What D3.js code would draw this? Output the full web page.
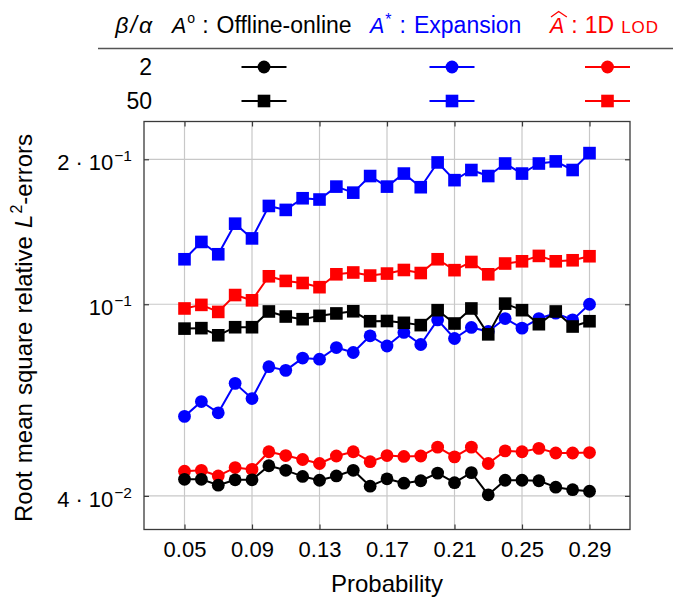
<!DOCTYPE html>
<html>
<head>
<meta charset="utf-8">
<script src="https://cdn.jsdelivr.net/npm/d3@7/dist/d3.min.js"></script>
<style>
  body { margin: 0; background: #fff; }
  svg { display: block; }
  text { font-family: "Liberation Sans", Arial, sans-serif; fill: #000; }
</style>
</head>
<body>
<svg id="chart" width="673" height="598"></svg>
<script>
// Sampling probabilities (x axis)
const probability = [0.05, 0.06, 0.07, 0.08, 0.09, 0.10, 0.11, 0.12, 0.13, 0.14, 0.15, 0.16,
                     0.17, 0.18, 0.19, 0.20, 0.21, 0.22, 0.23, 0.24, 0.25, 0.26, 0.27, 0.28, 0.29];

// RMS relative L2-errors, offline-online method
const offline2  = [0.0433, 0.0433, 0.0421, 0.0432, 0.0432, 0.0462, 0.0452, 0.0439, 0.0431, 0.0440, 0.0452, 0.0419,
                   0.0434, 0.0425, 0.0430, 0.0446, 0.0426, 0.0447, 0.0402, 0.0431, 0.0431, 0.0430, 0.0417, 0.0412, 0.0409];
const offline50 = [0.0890, 0.0892, 0.0862, 0.0896, 0.0896, 0.0966, 0.0943, 0.0931, 0.0946, 0.0957, 0.0967, 0.0922,
                   0.0923, 0.0915, 0.0905, 0.0972, 0.0912, 0.0980, 0.0866, 0.1003, 0.0972, 0.0909, 0.0966, 0.0899, 0.0922];

// Expansion method
const expansion2  = [0.0585, 0.0628, 0.0595, 0.0685, 0.0637, 0.0742, 0.0729, 0.0773, 0.0769, 0.0813, 0.0794, 0.0860,
                     0.0819, 0.0874, 0.0825, 0.0928, 0.0849, 0.0895, 0.0878, 0.0934, 0.0892, 0.0934, 0.0958, 0.0928, 0.1000];
const expansion50 = [0.1240, 0.1347, 0.1270, 0.1470, 0.1370, 0.1600, 0.1570, 0.1660, 0.1650, 0.1755, 0.1705, 0.1846,
                     0.1755, 0.1868, 0.1750, 0.1970, 0.1810, 0.1900, 0.1846, 0.1960, 0.1868, 0.1960, 0.1980, 0.1900, 0.2060];

// 1D LOD method
const lod2  = [0.0450, 0.0452, 0.0440, 0.0458, 0.0454, 0.0494, 0.0485, 0.0476, 0.0467, 0.0484, 0.0494, 0.0471,
               0.0485, 0.0483, 0.0484, 0.0505, 0.0482, 0.0505, 0.0467, 0.0496, 0.0494, 0.0502, 0.0491, 0.0491, 0.0492];
const lod50 = [0.0980, 0.0997, 0.0964, 0.1045, 0.1019, 0.1143, 0.1118, 0.1107, 0.1085, 0.1154, 0.1164, 0.1147,
               0.1158, 0.1178, 0.1161, 0.1240, 0.1177, 0.1224, 0.1154, 0.1215, 0.1228, 0.1260, 0.1228, 0.1234, 0.1258];

const ratioLabels = ["2", "50"];
const xTickValues = [0.05, 0.09, 0.13, 0.17, 0.21, 0.25, 0.29];
const yTickValues = [0.04, 0.1, 0.2];

// Drawing order: LOD, expansion, offline-online (later series sit on top)
const series = [
  { values: lod2,        color: "#ff0000", marker: "circle" },
  { values: lod50,       color: "#ff0000", marker: "square" },
  { values: expansion2,  color: "#0000ff", marker: "circle" },
  { values: expansion50, color: "#0000ff", marker: "square" },
  { values: offline2,    color: "#000000", marker: "circle" },
  { values: offline50,   color: "#000000", marker: "square" }
];

const svg = d3.select("#chart");
const plot = { left: 144, right: 630, top: 121.5, bottom: 529.5 };

const x = d3.scaleLinear().domain([0.026, 0.314]).range([plot.left, plot.right]);
const y = d3.scaleLog().domain([0.03406, 0.2396]).range([plot.bottom, plot.top]);

const GRID = "#c8c8c8", FRAME = "#3a3a3a";
const R = 6.4, S = 12.6;

function drawMarker(sel, type, color) {
  if (type === "circle") {
    sel.append("circle").attr("r", R).attr("fill", color);
  } else {
    sel.append("rect").attr("x", -S / 2).attr("y", -S / 2).attr("width", S).attr("height", S).attr("fill", color);
  }
}

// Grid
const grid = svg.append("g");
grid.selectAll("line.gx").data(xTickValues).join("line")
  .attr("x1", d => x(d)).attr("x2", d => x(d))
  .attr("y1", plot.top).attr("y2", plot.bottom)
  .attr("stroke", GRID).attr("stroke-width", 1.2);
grid.selectAll("line.gy").data(yTickValues).join("line")
  .attr("x1", plot.left).attr("x2", plot.right)
  .attr("y1", d => y(d)).attr("y2", d => y(d))
  .attr("stroke", GRID).attr("stroke-width", 1.2);

// Inner tick marks on all four sides
function styleAxis(g) {
  g.select(".domain").remove();
  g.selectAll(".tick line").attr("stroke", FRAME).attr("stroke-width", 1.2);
}
svg.append("g").attr("transform", `translate(0,${plot.bottom})`)
  .call(d3.axisBottom(x).tickValues(xTickValues).tickSize(-5).tickPadding(11.5).tickFormat(d3.format(".2f")))
  .call(styleAxis)
  .call(g => g.selectAll(".tick text").attr("font-size", 22).attr("fill", "#000")
    .attr("font-family", "Liberation Sans, Arial, sans-serif"));
svg.append("g").attr("transform", `translate(0,${plot.top})`)
  .call(d3.axisTop(x).tickValues(xTickValues).tickSize(-5).tickFormat(() => ""))
  .call(styleAxis);
const yAxisG = svg.append("g").attr("transform", `translate(${plot.left},0)`)
  .call(d3.axisLeft(y).tickValues(yTickValues).tickSize(-5).tickFormat(() => ""))
  .call(styleAxis);
svg.append("g").attr("transform", `translate(${plot.right},0)`)
  .call(d3.axisRight(y).tickValues(yTickValues).tickSize(-5).tickFormat(() => ""))
  .call(styleAxis);

// Y tick labels in scientific notation: m · 10^e
yAxisG.selectAll(".tick").each(function (d) {
  const e = Math.floor(Math.log10(d) + 1e-9);
  const m = Math.round(d / Math.pow(10, e));
  const t = d3.select(this).append("text")
    .attr("x", -12).attr("y", 10.5).attr("text-anchor", "end")
    .attr("font-size", 22).attr("fill", "#000");
  if (m !== 1) {
    t.append("tspan").text(String(m));
    t.append("tspan").attr("dx", 6).text("\u00b7");
    t.append("tspan").attr("dx", 6).text("10");
  } else {
    t.append("tspan").text("10");
  }
  t.append("tspan").attr("font-size", 15.5).attr("dx", 1).attr("dy", -9).text("\u2212" + Math.abs(e));
});

// Frame
svg.append("rect")
  .attr("x", plot.left).attr("y", plot.top)
  .attr("width", plot.right - plot.left).attr("height", plot.bottom - plot.top)
  .attr("fill", "none").attr("stroke", FRAME).attr("stroke-width", 1.3);

// Series lines and markers
const line = d3.line().x((d, i) => x(probability[i])).y(d => y(d));
series.forEach(s => {
  const g = svg.append("g");
  g.append("path").datum(s.values).attr("d", line)
    .attr("fill", "none").attr("stroke", s.color).attr("stroke-width", 2).attr("stroke-linejoin", "round");
  g.selectAll("g.pt").data(s.values).join("g")
    .attr("transform", (d, i) => `translate(${x(probability[i])},${y(d)})`)
    .each(function () { drawMarker(d3.select(this), s.marker, s.color); });
});

// Axis titles
svg.append("text").attr("x", (plot.left + plot.right) / 2).attr("y", 592)
  .attr("text-anchor", "middle").attr("font-size", 24).text("Probability");
const yl = svg.append("text").attr("transform", "translate(32,328) rotate(-90)")
  .attr("text-anchor", "middle").attr("font-size", 24).attr("word-spacing", 1.5);
yl.append("tspan").text("Root mean square relative ");
yl.append("tspan").attr("font-style", "italic").text("L");
yl.append("tspan").attr("font-size", 16).attr("dx", 1).attr("dy", -10).text("2");
yl.append("tspan").attr("dy", 10).text("-errors");

// Legend table
const legend = svg.append("g");
const headY = 33, fs = 23, fsA = 21.5;
const h0 = legend.append("text").attr("x", 152).attr("y", headY).attr("text-anchor", "end")
  .attr("font-size", fs).attr("font-style", "italic");
h0.append("tspan").text("\u03b2");
h0.append("tspan").attr("dx", 2).text("/");
h0.append("tspan").attr("dx", 2).text("\u03b1");

const h1 = legend.append("text").attr("x", 172).attr("y", headY).attr("font-size", fs);
h1.append("tspan").attr("font-style", "italic").attr("font-size", fsA).text("A");
h1.append("tspan").attr("font-size", 14).attr("dx", 1).attr("dy", -10).text("o");
h1.append("tspan").attr("dx", 7).attr("dy", 10).text(":");
h1.append("tspan").attr("dx", 8).text("Offline-online");

const h2 = legend.append("text").attr("x", 370).attr("y", headY).attr("font-size", fs)
  .style("fill", "#0000ff");
h2.append("tspan").attr("font-style", "italic").attr("font-size", fsA).text("A");
h2.append("tspan").attr("font-size", 16).attr("dx", 1).attr("dy", -8).text("*");
h2.append("tspan").attr("dx", 8).attr("dy", 8).text(":");
h2.append("tspan").attr("dx", 8).text("Expansion");

const h3 = legend.append("text").attr("x", 550).attr("y", headY).attr("font-size", fs)
  .style("fill", "#ff0000");
h3.append("tspan").attr("font-style", "italic").attr("font-size", fsA).text("A");
h3.append("tspan").attr("dx", 7).text(":");
h3.append("tspan").attr("dx", 7).text("1D");
h3.append("tspan").attr("dx", 7).attr("font-size", 17).attr("letter-spacing", 1).text("LOD");
// wide hat over the A
{
  const a0 = h3.node().getStartPositionOfChar(0).x;
  const a1 = h3.node().getEndPositionOfChar(0).x;
  const mid = (a0 + a1) / 2 + 1.5;
  legend.append("path")
    .attr("d", `M${a0 + 1},17 L${mid},11.5 L${a1 + 2.5},17`)
    .attr("fill", "none").attr("stroke", "#ff0000").attr("stroke-width", 1.3);
}

legend.append("line").attr("x1", 98).attr("x2", 673).attr("y1", 48.5).attr("y2", 48.5)
  .attr("stroke", "#555").attr("stroke-width", 1.4);

const rowY = [67, 101];
const colX = [264, 452, 607.5];
const colColors = ["#000000", "#0000ff", "#ff0000"];
const rowMarkers = ["circle", "square"];
ratioLabels.forEach((lab, r) => {
  legend.append("text").attr("x", 152).attr("y", rowY[r] + 8).attr("text-anchor", "end")
    .attr("font-size", fs).text(lab);
  colX.forEach((cx, c) => {
    const g = legend.append("g").attr("transform", `translate(${cx},${rowY[r]})`);
    g.append("line").attr("x1", -22.5).attr("x2", 22.5)
      .attr("stroke", colColors[c]).attr("stroke-width", 2);
    drawMarker(g, rowMarkers[r], colColors[c]);
  });
});
</script>
</body>
</html>
